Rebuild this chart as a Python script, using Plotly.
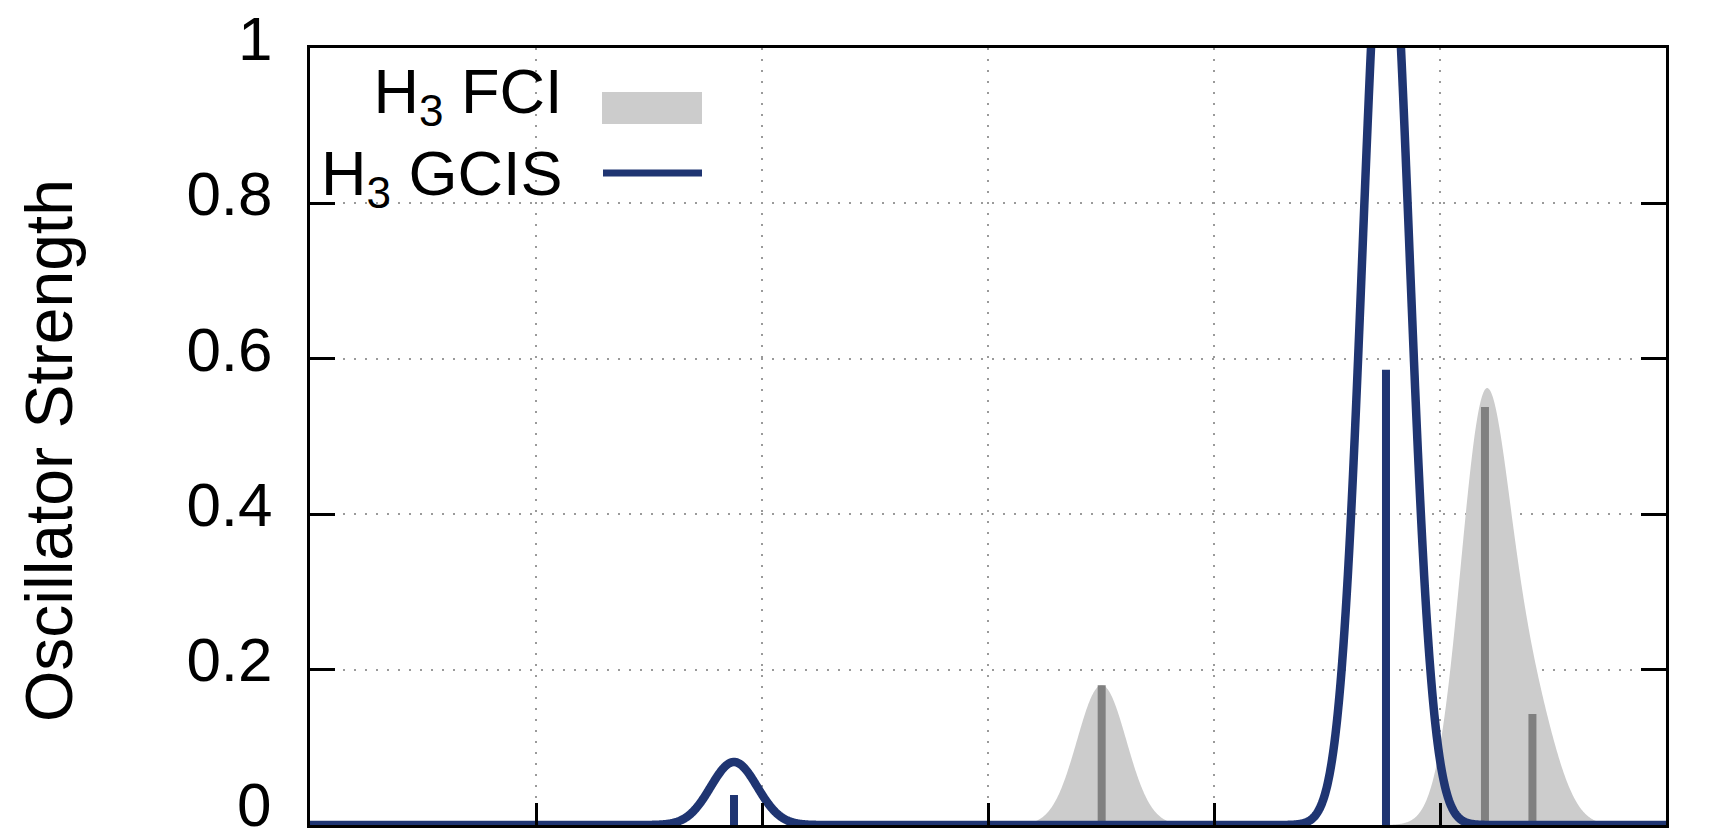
import numpy as np
import plotly.graph_objects as go

# ---------------- data ----------------
# excitation energies on the (unlabelled) x axis, arbitrary units 0..6
fci_energies = [3.503, 5.199, 5.409]
fci_strengths = [0.180, 0.538, 0.143]
gcis_energies = [1.876, 4.761]
gcis_strengths = [0.0386, 0.586]

# broadening used for the envelopes (read from the peak widths/heights)
fci_sigma = 0.109
fci_scale = 1.0
gcis_sigma = 0.103
gcis_scale = 2.1

x_range = [0, 6]
x_tickvals = [1, 2, 3, 4, 5]
y_tickvals = [0.2, 0.4, 0.6, 0.8, 1.0]
y_ticktext = ["0.2", "0.4", "0.6", "0.8", "1"]
y_zero_label = "0"

legend_text = "H<sub>3</sub> FCI<br>H<sub>3</sub> GCIS"
y_title = "Oscillator Strength"

# ---------------- style ----------------
FONT = "Liberation Sans, Arial, Helvetica, sans-serif"
NAVY = "rgb(31,53,114)"
FCI_FILL = "#cccccc"
FCI_STICK = "#808080"

W, H = 1720, 840
L, R, T, B = 310, 1666, 48, 825  # plot box in pixels


def px_x(p):
    return (p - L) / (R - L)


def px_y(p):
    return (B - p) / (B - T)


def broaden(grid, centers, heights, sigma, scale):
    out = np.zeros_like(grid)
    for c, h in zip(centers, heights):
        out += scale * h * np.exp(-((grid - c) ** 2) / (2 * sigma ** 2))
    return out


def stick_xy(centers, heights):
    xs, ys = [], []
    for c, h in zip(centers, heights):
        xs += [c, c, None]
        ys += [0, h, None]
    return xs, ys


grid = np.linspace(x_range[0], x_range[1], 2401)
fci_env = broaden(grid, fci_energies, fci_strengths, fci_sigma, fci_scale)
gcis_env = broaden(grid, gcis_energies, gcis_strengths, gcis_sigma, gcis_scale)

fig = go.Figure()

# FCI envelope (filled)
fig.add_trace(go.Scatter(x=grid, y=fci_env, mode="lines", fill="tozeroy",
                         fillcolor=FCI_FILL,
                         line=dict(width=0, color=FCI_FILL, simplify=False),
                         hoverinfo="skip", showlegend=False))
# FCI sticks
sx, sy = stick_xy(fci_energies, fci_strengths)
fig.add_trace(go.Scatter(x=sx, y=sy, mode="lines",
                         line=dict(width=8, color=FCI_STICK),
                         showlegend=False))
# GCIS envelope
fig.add_trace(go.Scatter(x=grid, y=gcis_env, mode="lines",
                         line=dict(width=8.5, color=NAVY, simplify=False),
                         hoverinfo="skip", showlegend=False))
# GCIS sticks
gx, gy = stick_xy(gcis_energies, gcis_strengths)
fig.add_trace(go.Scatter(x=gx, y=gy, mode="lines",
                         line=dict(width=8, color=NAVY),
                         showlegend=False))

fig.update_layout(
    width=W, height=H,
    margin=dict(l=L, r=W - R, t=T, b=H - B, pad=0, autoexpand=False),
    paper_bgcolor="white", plot_bgcolor="white",
    font=dict(family=FONT, size=62, color="black"),
    showlegend=False,
)

grid_style = dict(showgrid=True, gridcolor="#9a9a9a", gridwidth=1.5, griddash="2px,9px")

fig.update_xaxes(range=x_range, tickvals=x_tickvals, showticklabels=False,
                 ticks="inside", ticklen=22, tickwidth=2.5, tickcolor="black",
                 showline=True, linecolor="black", linewidth=3, mirror=True,
                 zeroline=False, layer="above traces", automargin=False,
                 **grid_style)
fig.update_yaxes(range=[0, 1], tickvals=y_tickvals, ticktext=y_ticktext,
                 ticks="inside", ticklen=25, tickwidth=2.5, tickcolor="black",
                 showline=True, linecolor="black", linewidth=3, mirror="ticks",
                 zeroline=False, layer="above traces", automargin=False,
                 tickfont=dict(family=FONT, size=62, color="black"),
                 ticklabelstandoff=22, ticklabelshift=-10,
                 ticklabeloverflow="allow",
                 **grid_style)

# the "0" label of the y axis, kept just inside the bottom edge of the page
fig.add_annotation(text=y_zero_label, xref="paper", yref="paper",
                   x=px_x(273), y=px_y(804), xanchor="right", yanchor="middle",
                   showarrow=False, font=dict(family=FONT, size=62, color="black"))

# legend background (opaque key box, hides the grid behind it)
fig.add_shape(type="rect", xref="paper", yref="paper",
              x0=px_x(L + 2), x1=px_x(738), y0=px_y(209), y1=px_y(67),
              fillcolor="white", line=dict(width=0), layer="between")
# legend samples
fig.add_shape(type="rect", xref="paper", yref="paper",
              x0=px_x(602), x1=px_x(702), y0=px_y(124), y1=px_y(92),
              fillcolor=FCI_FILL, line=dict(width=0), layer="above")
fig.add_shape(type="line", xref="paper", yref="paper",
              x0=px_x(603), x1=px_x(702), y0=px_y(173), y1=px_y(173),
              line=dict(color=NAVY, width=7), layer="above")
# legend text (right-aligned, as in the key)
fig.add_annotation(text=legend_text, xref="paper", yref="paper",
                   x=px_x(565), y=px_y(136), xanchor="right", yanchor="middle",
                   align="right", showarrow=False,
                   font=dict(family=FONT, size=63, color="black"))

# y axis title
fig.add_annotation(text=y_title, xref="paper", yref="paper",
                   x=px_x(49), y=px_y(451), xanchor="center", yanchor="middle",
                   textangle=-90, showarrow=False,
                   font=dict(family=FONT, size=66, color="black"))

fig.write_html("out.html")
